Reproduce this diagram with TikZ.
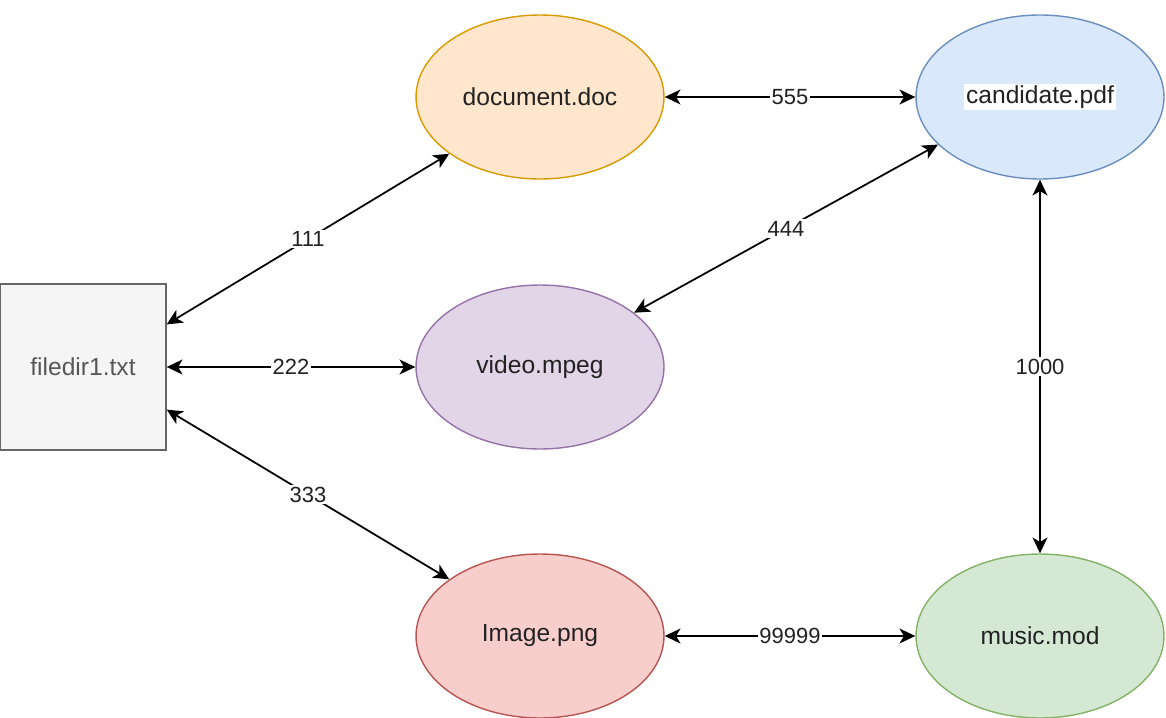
\documentclass[tikz,border=0pt]{standalone}
\usepackage{fontspec}
\setmainfont{Liberation Sans}
\usetikzlibrary{arrows.meta,shapes.geometric}

\definecolor{grayfill}{HTML}{F5F5F5}
\definecolor{grayline}{HTML}{666666}
\definecolor{orangefill}{HTML}{FFE6CC}
\definecolor{orangeline}{HTML}{D79B00}
\definecolor{bluefill}{HTML}{DAE8FC}
\definecolor{blueline}{HTML}{6C8EBF}
\definecolor{purplefill}{HTML}{E1D5E7}
\definecolor{purpleline}{HTML}{9673A6}
\definecolor{redfill}{HTML}{F8CECC}
\definecolor{redline}{HTML}{B85450}
\definecolor{greenfill}{HTML}{D5E8D4}
\definecolor{greenline}{HTML}{82B366}
\definecolor{textdark}{HTML}{222222}

\tikzset{
  fileitem/.style={ellipse, draw, line width=0.8pt, inner sep=0pt,
    minimum width=4.96cm, minimum height=3.28cm,
    font=\fontsize{14}{16}\selectfont, text=textdark},
  filebox/.style={rectangle, draw=grayline, fill=grayfill, line width=0.8pt,
    inner sep=0pt, minimum size=3.32cm,
    font=\fontsize{14}{16}\selectfont, text=grayline!85!black},
  link/.style={{Stealth[length=9pt,width=8.5pt,inset=2.5pt]}-{Stealth[length=9pt,width=8.5pt,inset=2.5pt]},
    line width=1pt},
  lbl/.style={fill=white, inner sep=1pt, text=textdark,
    font=\fontsize{12.5}{14}\selectfont}
}

\begin{document}
\begin{tikzpicture}[x=0.02cm,y=-0.02cm]

  \useasboundingbox (0,0) rectangle (1166,717);

  %Files
  \node [filebox] (file) at (83,367) {filedir1.txt};
  \node [fileitem, draw=orangeline, fill=orangefill] (doc)   at (540,97)  {document.doc};
  \node [fileitem, draw=blueline,   fill=bluefill]   (cand)  at (1040,97) {\fboxsep=1pt\colorbox{white}{candidate.pdf}};
  \node [fileitem, draw=purpleline, fill=purplefill] (video) at (540,367) {video.mpeg};
  \node [fileitem, draw=redline,    fill=redfill]    (image) at (540,636) {Image.png};
  \node [fileitem, draw=greenline,  fill=greenfill]  (music) at (1040,636) {music.mod};

  %Links from filedir1.txt
  \draw [link] (file.27)  -- node [lbl] {111} (doc.212);
  \draw [link] (file.east) -- node [lbl] {222} (video.west);
  \draw [link] (file.-27) -- node [lbl] {333} (image.148);

  %Links to candidate.pdf
  \draw [link] (video.30) -- node [lbl] {444} (cand.205);
  \draw [link] (doc.east) -- node [lbl] {555} (cand.west);
  \draw [link] (cand.south) -- node [lbl] {1000} (music.north);

  %Image to music
  \draw [link] (image.east) -- node [lbl] {99999} (music.west);

\end{tikzpicture}
\end{document}
